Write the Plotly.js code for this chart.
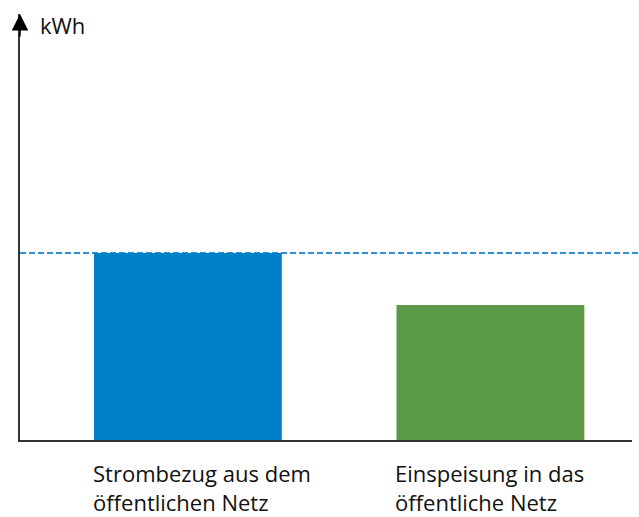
<!DOCTYPE html>
<html>
<head>
<meta charset="utf-8">
<script src="https://cdn.plot.ly/plotly-3.0.1.min.js"></script>
<style>html,body{margin:0;padding:0;background:#fff;}#chart{width:639px;height:517px;}</style>
</head>
<body>
<div id="chart"></div>
<script>
var categories = ["Strombezug aus dem öffentlichen Netz", "Einspeisung in das öffentliche Netz"];
var labelLines = [["Strombezug aus dem", "öffentlichen Netz"], ["Einspeisung in das", "öffentliche Netz"]];
var values = [43.9, 31.7];
var colors = ["#0080c6", "#5a9a46"];
var referenceValue = 43.9;
var unitLabel = "kWh";

var xs = [0, 1];
var barWidth = 0.621;
var font = "Open Sans, Noto Sans, sans-serif";

var annotations = [];
annotations.push({xref: "paper", yref: "paper", x: 0, y: 1, ax: 0, ay: 24, axref: "pixel", ayref: "pixel",
  showarrow: true, arrowhead: 2, arrowsize: 2.2, arrowwidth: 1.5, arrowcolor: "#000", text: ""});
annotations.push({xref: "paper", yref: "paper", x: 0.029, y: 1.0, xanchor: "left", yanchor: "top",
  text: unitLabel, showarrow: false, font: {family: font, size: 22, color: "#111"}, yshift: 6});
for (var i = 0; i < xs.length; i++) {
  annotations.push({xref: "x", yref: "paper", x: xs[i] - barWidth / 2, y: 0, xanchor: "left", yanchor: "top",
    yshift: -16, xshift: -3, text: labelLines[i].join("<br>"), showarrow: false, align: "left",
    font: {family: font, size: 22, color: "#111"}});
}

var data = [{
  type: "bar", x: xs, y: values, width: barWidth,
  marker: {color: colors}, hoverinfo: "skip"
}];

var layout = {
  width: 639, height: 517,
  margin: {l: 20, r: 7, t: 14, b: 77},
  paper_bgcolor: "#fff", plot_bgcolor: "#fff",
  showlegend: false,
  xaxis: {range: [-0.555, 1.468], showgrid: false, zeroline: false, showticklabels: false, ticks: "",
    showline: true, linecolor: "#333", linewidth: 2},
  yaxis: {range: [0, 100], showgrid: false, zeroline: false, showticklabels: false, ticks: "",
    showline: true, linecolor: "#333", linewidth: 2},
  shapes: [{type: "line", xref: "paper", yref: "y", x0: 0, x1: 1.012, y0: referenceValue, y1: referenceValue,
    line: {color: "#2e8fd6", width: 2, dash: "6px,3px"}, layer: "below"}],
  annotations: annotations
};
Plotly.newPlot("chart", data, layout, {staticPlot: true});
</script>
</body>
</html>
